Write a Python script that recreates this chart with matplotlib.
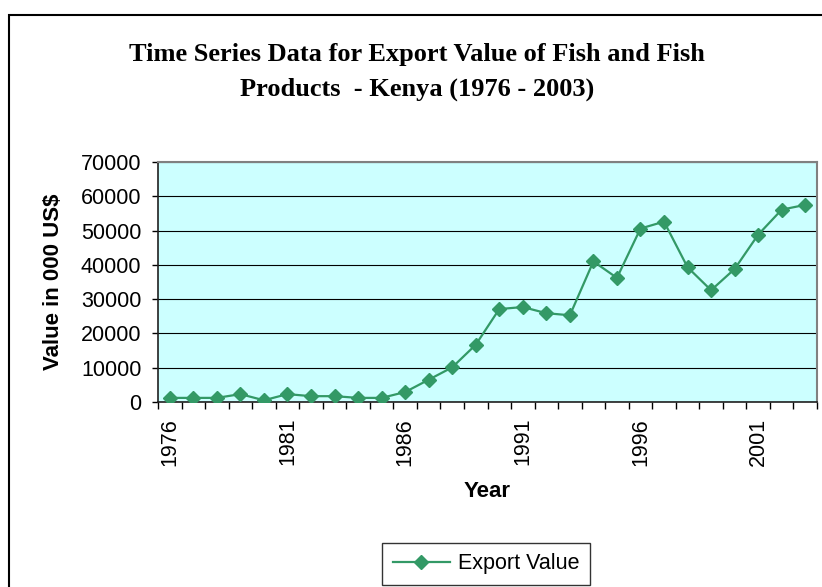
import matplotlib
matplotlib.use("agg")
import matplotlib.pyplot as plt
from matplotlib.patches import Rectangle

# data
years = list(range(1976, 2004))
export_value = [1200, 1200, 1200, 2300, 500, 2300, 1700, 1700, 1200, 1200,
                2900, 6500, 10100, 16700, 27100, 27700, 25900, 25300, 41000, 36200,
                50600, 52600, 39300, 32600, 38800, 48800, 56100, 57500]
year_labels = [str(y) for y in years[::5]]
y_ticks = list(range(0, 70001, 10000))

W, H = 822, 587
fig = plt.figure(figsize=(W / 100, H / 100), dpi=100)

# outer chart border (runs off right and bottom edges)
fig.patches.append(Rectangle((9 / W, -0.1), 1.2, 1 - 15 / H + 0.1,
                             transform=fig.transFigure, fill=False,
                             edgecolor="black", linewidth=1.5))

ax = fig.add_axes([158 / W, 1 - 402 / H, (817 - 158) / W, (402 - 162) / H])
ax.set_facecolor("#CCFFFF")

x = list(range(len(years)))
ax.plot(x, export_value, color="#339966", linewidth=1.6, marker="D",
        markersize=7.5, label="Export Value", zorder=3)

ax.set_xlim(-0.5, len(years) - 0.5)
ax.set_ylim(0, 70000)
ax.set_yticks(y_ticks)
ax.set_yticklabels([str(v) for v in y_ticks])
ax.yaxis.grid(True, color="black", linewidth=0.8)
ax.set_axisbelow(True)

# year labels every 5 categories, tick marks at category boundaries
ax.set_xticks(x[::5])
ax.set_xticklabels(year_labels, rotation=90)
ax.set_xticks([i - 0.5 for i in range(len(years) + 1)], minor=True)
ax.tick_params(axis="x", which="major", length=0, pad=11.5)
ax.tick_params(axis="x", which="minor", length=5, width=1, direction="out")
ax.tick_params(axis="y", length=4, width=1, pad=8)
for lab in ax.get_xticklabels() + ax.get_yticklabels():
    lab.set_fontfamily("Liberation Sans")
    lab.set_fontsize(15.5)

for side in ("left", "bottom"):
    ax.spines[side].set_color("#202020")
    ax.spines[side].set_linewidth(1.2)
for side in ("top", "right"):
    ax.spines[side].set_color("#808080")
    ax.spines[side].set_linewidth(1.5)

ax.set_xlabel("Year", fontfamily="Liberation Sans", fontweight="bold",
              fontsize=16, labelpad=11)
ax.set_ylabel("Value in 000 US$", fontfamily="Liberation Sans",
              fontweight="bold", fontsize=16, labelpad=12)

fig.text(417 / W, 1 - 55 / H, "Time Series Data for Export Value of Fish and Fish",
         ha="center", va="center", fontfamily="Liberation Serif",
         fontweight="bold", fontsize=19)
fig.text(417 / W, 1 - 89 / H, "Products  - Kenya (1976 - 2003)",
         ha="center", va="center", fontfamily="Liberation Serif",
         fontweight="bold", fontsize=19)

leg = fig.legend(loc="center", bbox_to_anchor=(486 / W, 1 - 564 / H),
                 prop={"family": "Liberation Sans", "size": 15.5},
                 frameon=True, fancybox=False, shadow=False,
                 handlelength=2.65, handletextpad=0.35, borderpad=0.5)
leg.get_frame().set_edgecolor("black")
leg.get_frame().set_linewidth(1.0)

fig.savefig("out.png", dpi=100)
